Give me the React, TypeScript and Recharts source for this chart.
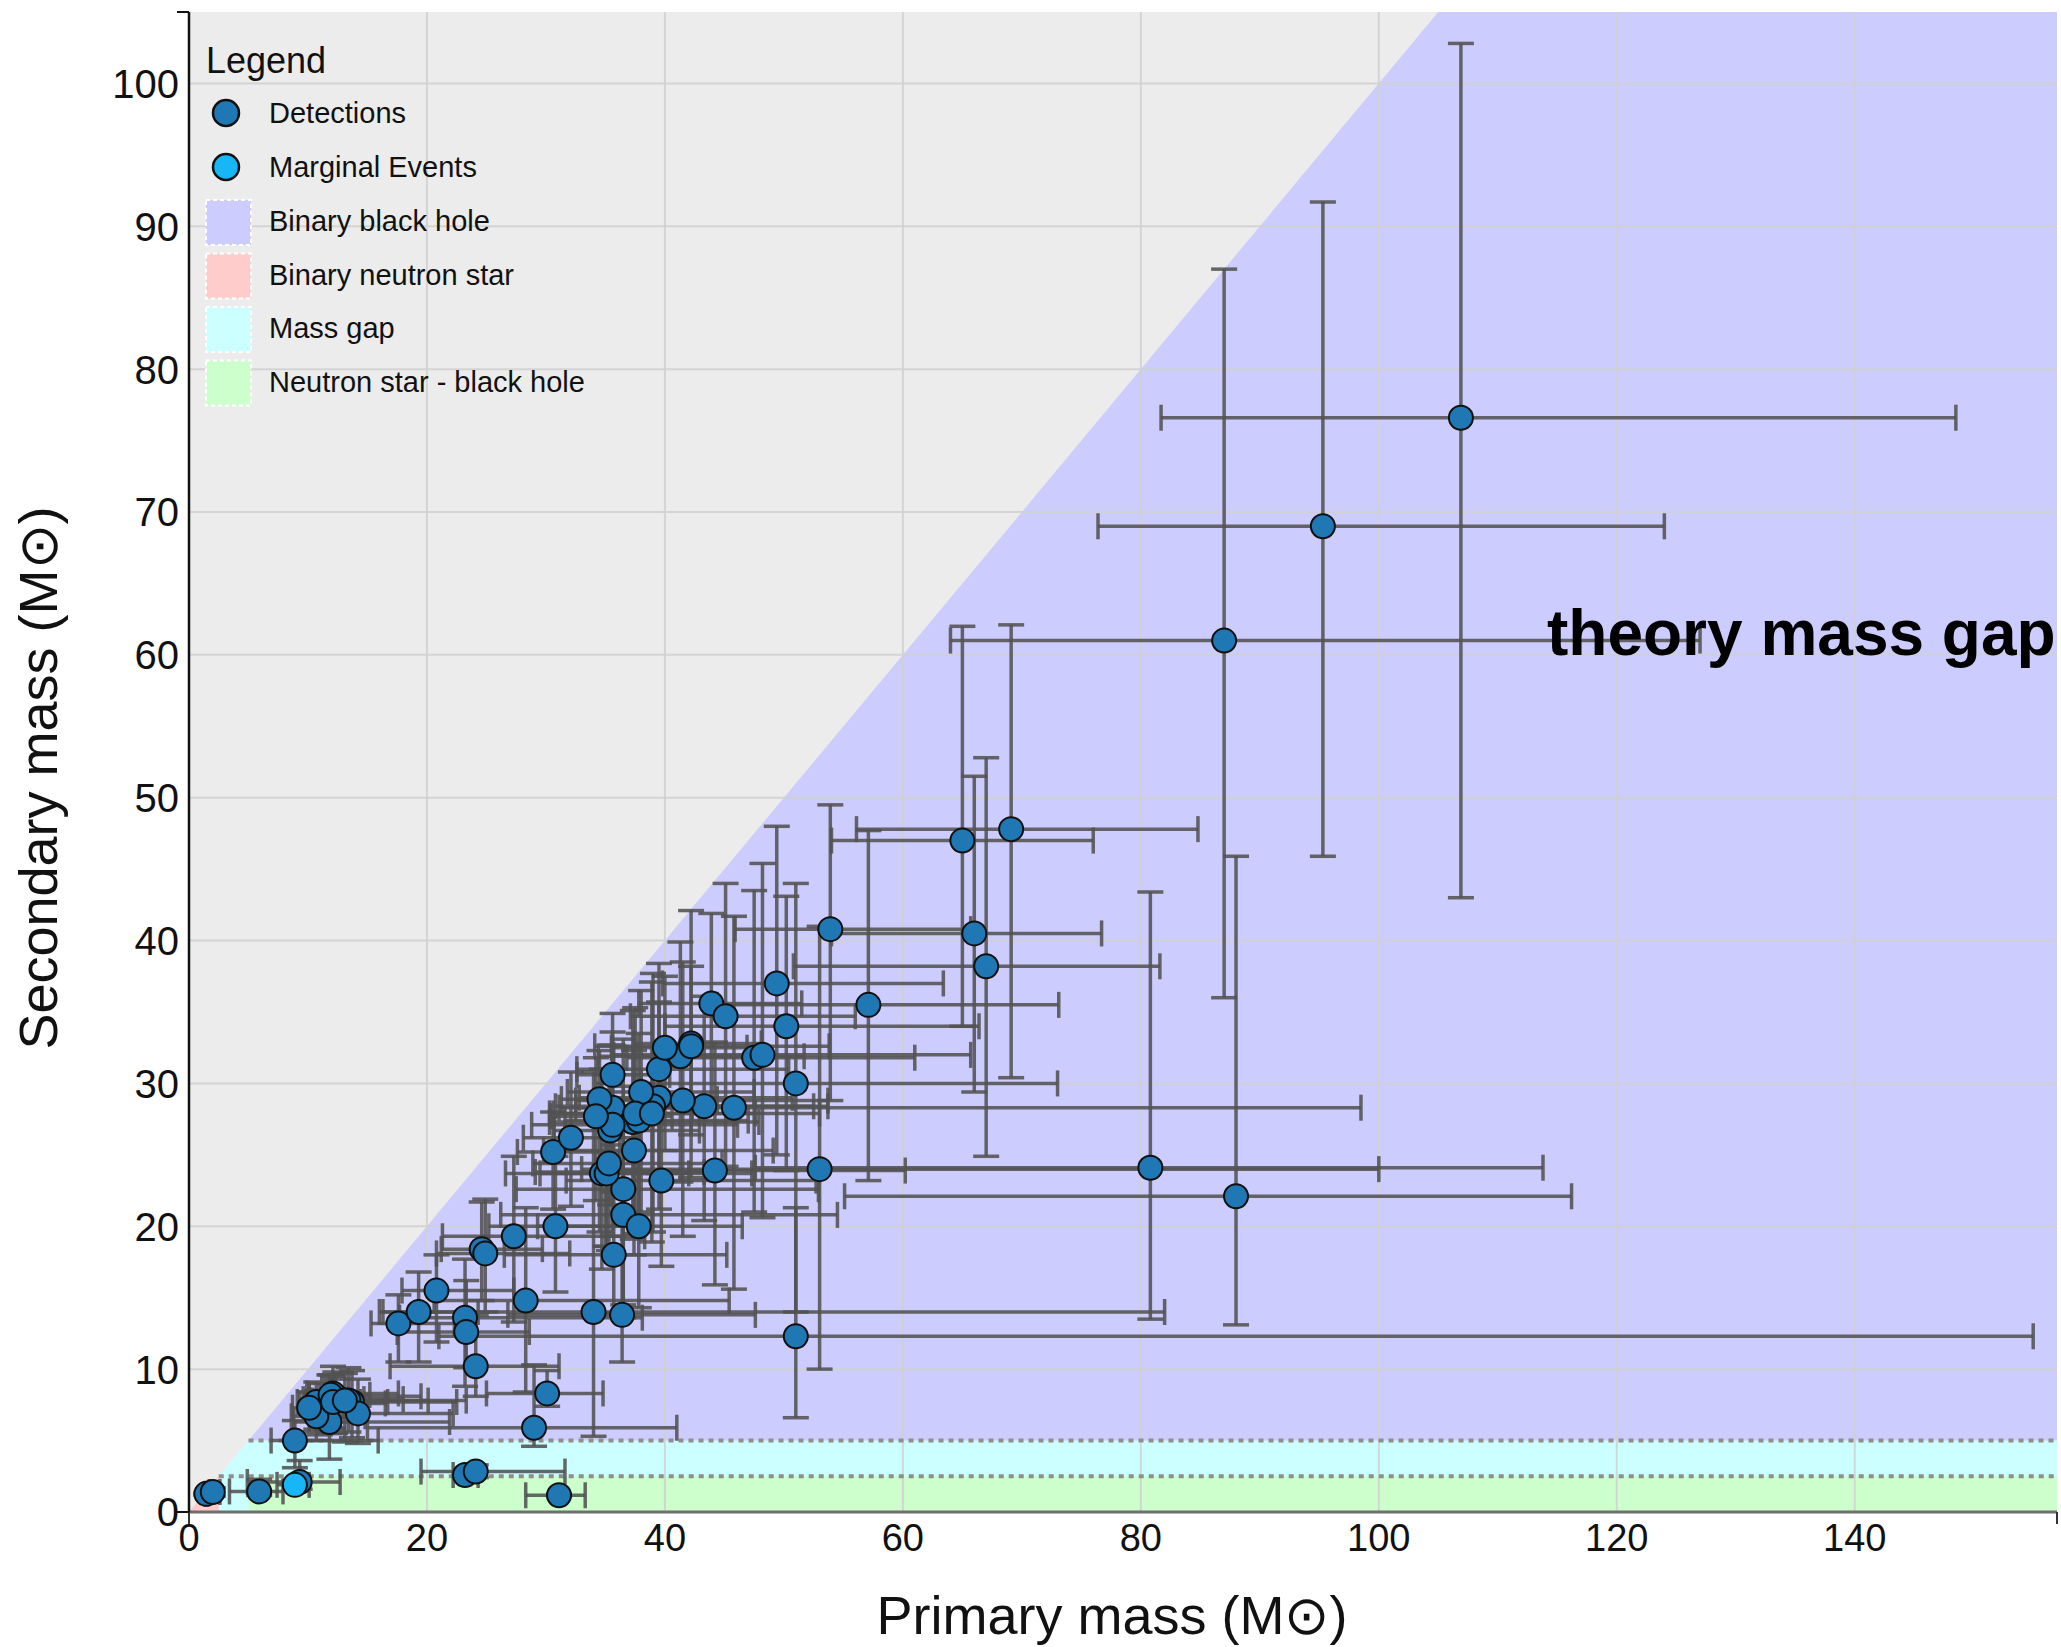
import React from "react";
import {
  ComposedChart,
  XAxis,
  YAxis,
  Scatter,
  ErrorBar,
  ReferenceArea,
  ReferenceLine,
  Area,
  Legend,
} from "recharts";

// one row per event: name, m1, m1 minus, m1 plus, m2, m2 minus, m2 plus (solar masses)
type Row = [string, number, number, number, number, number, number];

const O1_O2: Row[] = [
  ["GW150914", 35.6, 3.0, 4.8, 30.6, 4.4, 3.0],
  ["GW151012", 23.2, 5.5, 14.9, 13.6, 4.8, 4.1],
  ["GW151226", 13.7, 3.2, 8.8, 7.7, 2.5, 2.2],
  ["GW170104", 30.8, 5.6, 7.3, 20.0, 4.6, 4.9],
  ["GW170608", 11.0, 1.7, 5.5, 7.6, 2.2, 1.4],
  ["GW170729", 50.2, 10.2, 16.2, 34.0, 10.1, 9.1],
  ["GW170809", 35.0, 5.9, 8.3, 23.8, 5.2, 5.1],
  ["GW170814", 30.6, 3.0, 5.6, 25.2, 4.0, 2.8],
  ["GW170817", 1.46, 0.1, 0.12, 1.27, 0.09, 0.09],
  ["GW170818", 35.4, 4.7, 7.5, 26.7, 5.2, 4.3],
  ["GW170823", 39.5, 6.7, 11.2, 29.0, 7.8, 6.7],
];

const O3A: Row[] = [
  ["GW190408_181802", 24.6, 3.4, 5.1, 18.4, 3.6, 3.3],
  ["GW190412", 30.1, 5.1, 4.7, 8.3, 0.9, 1.6],
  ["GW190413_052954", 34.7, 8.1, 12.6, 23.7, 6.7, 7.3],
  ["GW190413_134308", 47.5, 10.7, 13.5, 31.8, 10.8, 11.7],
  ["GW190421_213856", 41.3, 6.9, 10.4, 31.9, 8.8, 8.0],
  ["GW190424_180648", 39.5, 6.9, 10.9, 31.0, 7.3, 7.4],
  ["GW190425", 2.0, 0.3, 0.6, 1.4, 0.3, 0.3],
  ["GW190503_185404", 43.3, 8.1, 9.2, 28.4, 8.0, 7.7],
  ["GW190512_180714", 23.3, 5.8, 5.3, 12.6, 2.5, 3.6],
  ["GW190513_205428", 35.7, 9.2, 9.5, 18.0, 4.1, 7.7],
  ["GW190514_065416", 39.0, 8.2, 14.7, 28.4, 8.8, 9.3],
  ["GW190517_055101", 37.4, 7.6, 11.7, 25.3, 7.3, 7.0],
  ["GW190519_153544", 66.0, 12.0, 10.7, 40.5, 11.1, 11.0],
  ["GW190521", 95.3, 18.9, 28.7, 69.0, 23.1, 22.7],
  ["GW190521_074359", 42.2, 4.8, 5.9, 32.8, 6.4, 5.4],
  ["GW190527_092055", 36.5, 9.0, 16.4, 22.6, 8.1, 10.5],
  ["GW190602_175927", 69.1, 13.0, 15.7, 47.8, 17.4, 14.3],
  ["GW190620_030421", 57.1, 12.7, 16.0, 35.5, 12.3, 12.2],
  ["GW190630_185205", 35.1, 5.6, 6.9, 23.7, 5.1, 5.2],
  ["GW190701_203306", 53.9, 8.0, 11.8, 40.8, 12.0, 8.7],
  ["GW190706_222641", 67.0, 16.2, 14.6, 38.2, 13.3, 14.6],
  ["GW190707_093326", 12.1, 2.0, 2.6, 7.9, 1.3, 1.6],
  ["GW190708_232457", 17.6, 2.3, 4.7, 13.2, 2.7, 2.0],
  ["GW190719_215514", 36.5, 10.3, 18.0, 20.8, 7.2, 9.0],
  ["GW190720_000836", 13.4, 3.0, 6.7, 7.8, 2.2, 2.3],
  ["GW190727_060333", 38.0, 6.2, 9.5, 29.4, 8.4, 7.1],
  ["GW190728_064510", 12.3, 2.2, 7.2, 8.1, 2.6, 1.7],
  ["GW190731_140936", 41.5, 9.0, 12.2, 28.8, 9.5, 9.7],
  ["GW190803_022701", 37.3, 7.0, 10.6, 27.3, 8.2, 7.8],
  ["GW190814", 23.2, 1.0, 1.1, 2.59, 0.09, 0.08],
  ["GW190828_063405", 32.1, 4.0, 5.8, 26.2, 4.8, 4.6],
  ["GW190828_065509", 24.1, 7.2, 7.0, 10.2, 2.1, 3.6],
  ["GW190909_114149", 45.8, 13.3, 52.7, 28.3, 12.7, 13.4],
  ["GW190910_112807", 43.9, 6.1, 7.6, 35.6, 7.2, 6.3],
  ["GW190915_235702", 35.3, 6.4, 9.5, 24.4, 6.1, 5.6],
  ["GW190924_021846", 8.9, 2.0, 7.0, 5.0, 1.9, 1.4],
  ["GW190929_012149", 80.8, 33.2, 33.0, 24.1, 10.6, 19.3],
  ["GW190930_133541", 14.2, 4.0, 8.0, 6.9, 2.1, 2.4],
];

const O3A_EXTRA: Row[] = [
  ["GW190403_051519", 88.0, 32.9, 28.2, 22.1, 9.0, 23.8],
  ["GW190426_190642", 106.9, 25.2, 41.6, 76.6, 33.6, 26.2],
  ["GW190725_174728", 11.8, 3.0, 10.1, 6.3, 2.6, 2.1],
  ["GW190805_211137", 48.2, 12.5, 17.5, 32.0, 11.4, 13.4],
  ["GW190917_114630", 9.3, 4.4, 3.4, 2.1, 0.5, 1.5],
  ["GW190925_232845", 20.8, 2.9, 6.5, 15.5, 3.6, 2.5],
  ["(unlabelled)", 44.2, 10.0, 16.0, 23.9, 8.0, 9.0],
  ["(unlabelled)", 39.7, 8.0, 13.0, 23.2, 6.0, 8.0],
];

const O3B: Row[] = [
  ["GW191103_012549", 11.8, 2.2, 6.2, 7.9, 2.4, 1.7],
  ["GW191105_143521", 10.7, 1.6, 3.7, 7.7, 1.9, 1.4],
  ["GW191109_010717", 65, 11, 11, 47, 13, 15],
  ["GW191113_071753", 29, 14, 12, 5.9, 1.3, 4.4],
  ["GW191126_115259", 12.1, 2.2, 5.5, 8.3, 2.4, 1.9],
  ["GW191127_050227", 53, 20, 47, 24, 14, 17],
  ["GW191129_134029", 10.7, 2.1, 4.1, 6.7, 1.7, 1.5],
  ["GW191204_110529", 27.3, 6.0, 11.0, 19.3, 6.0, 5.6],
  ["GW191204_171526", 11.9, 1.8, 3.3, 8.2, 1.6, 1.4],
  ["GW191215_223052", 24.9, 4.1, 7.1, 18.1, 4.1, 3.8],
  ["GW191216_213338", 12.1, 2.3, 4.6, 7.7, 1.9, 1.6],
  ["GW191219_163120", 31.1, 2.8, 2.2, 1.17, 0.06, 0.07],
  ["GW191222_033537", 45.1, 8.0, 10.9, 34.7, 10.5, 9.3],
  ["GW191230_180458", 49.4, 9.6, 14.0, 37, 12, 11],
  ["GW200112_155838", 35.6, 4.5, 6.7, 28.3, 5.9, 4.4],
  ["GW200115_042309", 5.9, 2.5, 2.0, 1.44, 0.29, 0.85],
  ["GW200128_022011", 42.2, 8.1, 11.6, 32.6, 9.2, 9.5],
  ["GW200129_065458", 34.5, 3.2, 9.9, 28.9, 9.3, 3.4],
  ["GW200202_154313", 10.1, 1.4, 3.5, 7.3, 1.7, 1.1],
  ["GW200208_130117", 37.8, 6.2, 9.2, 27.4, 7.4, 6.1],
  ["GW200208_222617", 51, 30, 104, 12.3, 5.7, 9.0],
  ["GW200209_085452", 35.6, 6.8, 10.5, 27.1, 7.8, 7.8],
  ["GW200210_092254", 24.1, 4.6, 7.5, 2.83, 0.42, 0.47],
  ["GW200216_220804", 51, 13, 22, 30, 16, 14],
  ["GW200219_094415", 37.5, 6.9, 10.1, 27.9, 8.4, 7.4],
  ["GW200220_061928", 87, 23, 40, 61, 25, 26],
  ["GW200220_124850", 38.9, 8.6, 14.1, 27.9, 9.0, 9.2],
  ["GW200224_222234", 40, 4.5, 6.9, 32.5, 7.2, 5.0],
  ["GW200225_060421", 19.3, 3.0, 5.0, 14.0, 3.5, 2.8],
  ["GW200302_015811", 37.8, 8.5, 8.7, 20.0, 5.7, 8.1],
  ["GW200306_093714", 28.3, 7.7, 17.1, 14.8, 6.4, 6.5],
  ["GW200308_173609", 36.4, 9.6, 11.2, 13.8, 3.3, 7.2],
  ["GW200311_115853", 34.2, 3.8, 6.4, 27.7, 5.9, 4.1],
  ["GW200316_215756", 13.1, 2.9, 10.2, 7.8, 2.9, 1.9],
  ["GW200322_091133", 34, 18, 48, 14.0, 8.7, 16.8],
];

const MARGINAL: Row[] = [["GW200105_162426", 8.9, 1.5, 1.2, 1.9, 0.2, 0.3]];

const X_MAX = 157;
const Y_MAX = 105;
const X_TICKS = [0, 20, 40, 60, 80, 100, 120, 140];
const Y_TICKS = [0, 10, 20, 30, 40, 50, 60, 70, 80, 90, 100];

// population regions [x1, x2, y1, y2], painted in this order
const REGION_NAMES = ["Mass gap", "Neutron star - black hole", "Binary neutron star", "Binary black hole"];
const REGION_BOUNDS = [
  [2.5, X_MAX, 0, 5],
  [5, X_MAX, 0, 2.5],
  [0, 2.5, 0, 2.5],
  [5, X_MAX, 5, Y_MAX],
];
const GAP_EDGES = [2.5, 5];
const DIAGONAL = [
  { m1: 0, m2: 0 },
  { m1: Y_MAX, m2: Y_MAX },
];

const LEGEND_MARKERS = ["Detections", "Marginal Events"];
const LEGEND_REGIONS = ["Binary black hole", "Binary neutron star", "Mass gap", "Neutron star - black hole"];

const COLORS: Record<string, string> = {
  "Binary black hole": "#ccccff",
  "Binary neutron star": "#ffcccc",
  "Mass gap": "#ccffff",
  "Neutron star - black hole": "#ccffcc",
  Detections: "#1f77b4",
  "Marginal Events": "#16b6f7",
};

const FONT = "'Liberation Sans', Arial, Helvetica, sans-serif";
const EMPTY = "#ececec";
const BAR = { stroke: "#525252", strokeOpacity: 0.88, strokeWidth: 3.5, width: 13 };

const toPoints = (rows: Row[]) =>
  rows.map(([name, m1, a, b, m2, c, d]) => ({ name, m1, m2, m1Err: [a, b], m2Err: [c, d] }));

const detections = toPoints([...O1_O2, ...O3A, ...O3A_EXTRA, ...O3B]);
const marginal = toPoints(MARGINAL);

const XTick = (p: any) => {
  const { x, y, payload } = p;
  const v = payload.value;
  return (
    <g>
      {(v === 0 || v === X_MAX) && <line x1={x} x2={x} y1={y - 12} y2={y} stroke="#333" strokeWidth={2} />}
      {v !== X_MAX && (
        <text x={x} y={y} dy="0.72em" textAnchor="middle" fontSize={38} fontFamily={FONT} fill="#111">
          {v}
        </text>
      )}
    </g>
  );
};

const YTick = (p: any) => {
  const { x, y, payload } = p;
  const v = payload.value;
  return (
    <g>
      {(v === 0 || v === Y_MAX) && <line x1={x - 2} x2={x + 10} y1={y} y2={y} stroke="#111" strokeWidth={2} />}
      {v !== Y_MAX && (
        <text x={x} y={y} dy="0.36em" textAnchor="end" fontSize={40} fontFamily={FONT} fill="#111">
          {v}
        </text>
      )}
    </g>
  );
};

const XTitle = (p: any) => {
  const vb = p.viewBox;
  return (
    <text x={vb.x + 923} y={vb.y + 122} textAnchor="middle" fontSize={54} fontFamily={FONT} fill="#111">
      Primary mass (M⊙)
    </text>
  );
};

const YTitle = (p: any) => {
  const vb = p.viewBox;
  const cx = vb.x + 57;
  const cy = vb.y + vb.height / 2 + 16;
  return (
    <text
      x={cx}
      y={cy}
      transform={`rotate(-90 ${cx} ${cy})`}
      textAnchor="middle"
      fontSize={54}
      fontFamily={FONT}
      fill="#111"
    >
      Secondary mass (M⊙)
    </text>
  );
};

const dot = (fill: string) => (p: any) =>
  <circle cx={p.cx} cy={p.cy} r={12} fill={fill} stroke="#111" strokeWidth={2} />;

const LegendBox = () => (
  <svg width={720} height={420} style={{ display: "block" }}>
    <text x={206} y={73} fontSize={36} fontFamily={FONT} fill="#111">
      Legend
    </text>
    {LEGEND_MARKERS.map((name, i) => (
      <g key={name}>
        <circle cx={226} cy={113 + i * 54} r={13} fill={COLORS[name]} stroke="#111" strokeWidth={2.5} />
        <text x={269} y={123 + i * 54} fontSize={29} fontFamily={FONT} fill="#111">
          {name}
        </text>
      </g>
    ))}
    {LEGEND_REGIONS.map((name, i) => (
      <g key={name}>
        <rect
          x={206}
          y={200 + i * 53.5}
          width={45}
          height={45}
          fill={COLORS[name]}
          stroke="#fff"
          strokeWidth={2}
          strokeDasharray="4 3"
        />
        <text x={269} y={231 + i * 53.5} fontSize={29} fontFamily={FONT} fill="#111">
          {name}
        </text>
      </g>
    ))}
  </svg>
);

export default function App() {
  return (
    <div style={{ position: "absolute", left: 0, top: 0, width: 2061, height: 1647, background: "#fff" }}>
      <ComposedChart width={2061} height={1647} margin={{ top: 12, right: 4, bottom: 0, left: 0 }}>
        <XAxis
          type="number"
          dataKey="m1"
          domain={[0, X_MAX]}
          ticks={[...X_TICKS, X_MAX]}
          interval={0}
          allowDataOverflow
          tickSize={0}
          tickMargin={12}
          tickLine={false}
          tick={<XTick />}
          axisLine={{ stroke: "#6e6e6e", strokeWidth: 3 }}
          height={135}
          label={(p: any) => <XTitle {...p} />}
        />
        <YAxis
          type="number"
          dataKey="m2"
          domain={[0, Y_MAX]}
          ticks={[...Y_TICKS, Y_MAX]}
          interval={0}
          allowDataOverflow
          tickSize={0}
          tickMargin={10}
          tickLine={false}
          tick={<YTick />}
          axisLine={{ stroke: "#111", strokeWidth: 2.5 }}
          width={189}
          label={(p: any) => <YTitle {...p} />}
        />

        <ReferenceArea x1={0} x2={X_MAX} y1={0} y2={Y_MAX} fill={EMPTY} fillOpacity={1} stroke="none" zIndex={100} />
        {REGION_BOUNDS.map(([x1, x2, y1, y2], i) => (
          <ReferenceArea
            key={REGION_NAMES[i]}
            x1={x1}
            x2={x2}
            y1={y1}
            y2={y2}
            fill={COLORS[REGION_NAMES[i]]}
            fillOpacity={1}
            stroke="none"
            zIndex={100}
          />
        ))}
        <Area
          data={DIAGONAL}
          dataKey="m2"
          type="linear"
          baseValue="dataMax"
          fill={EMPTY}
          fillOpacity={1}
          stroke="none"
          dot={false}
          activeDot={false}
          isAnimationActive={false}
          legendType="none"
          zIndex={101}
        />

        {X_TICKS.slice(1).map((v) => (
          <ReferenceLine key={"gx" + v} x={v} stroke="rgba(208,208,208,0.85)" strokeWidth={2} zIndex={102} />
        ))}
        {Y_TICKS.slice(1).map((v) => (
          <ReferenceLine key={"gy" + v} y={v} stroke="rgba(208,208,208,0.85)" strokeWidth={2} zIndex={102} />
        ))}
        {GAP_EDGES.map((v) => (
          <ReferenceLine
            key={"gap" + v}
            segment={[
              { x: v, y: v },
              { x: X_MAX, y: v },
            ]}
            stroke="#8e8e8e"
            strokeWidth={4}
            strokeDasharray="5 5"
            zIndex={103}
          />
        ))}

        <Scatter name="Detections" data={detections} shape={dot(COLORS.Detections)} isAnimationActive={false}>
          <ErrorBar dataKey="m1Err" direction="x" {...BAR} isAnimationActive={false} />
          <ErrorBar dataKey="m2Err" direction="y" {...BAR} isAnimationActive={false} />
        </Scatter>
        <Scatter name="Marginal Events" data={marginal} shape={dot(COLORS["Marginal Events"])} isAnimationActive={false}>
          <ErrorBar dataKey="m1Err" direction="x" {...BAR} isAnimationActive={false} />
          <ErrorBar dataKey="m2Err" direction="y" {...BAR} isAnimationActive={false} />
        </Scatter>

        <Legend
          layout="vertical"
          align="center"
          verticalAlign="middle"
          content={<LegendBox />}
          wrapperStyle={{ left: 0, top: 0, width: 720, height: 420, pointerEvents: "none" }}
        />
      </ComposedChart>
      <svg
        width={2057}
        height={720}
        style={{ position: "absolute", left: 0, top: 0, pointerEvents: "none" }}
      >
        <text x={1547} y={655} fontSize={64} fontWeight="bold" fontFamily={FONT} fill="#000">
          theory mass gap
        </text>
      </svg>
    </div>
  );
}
